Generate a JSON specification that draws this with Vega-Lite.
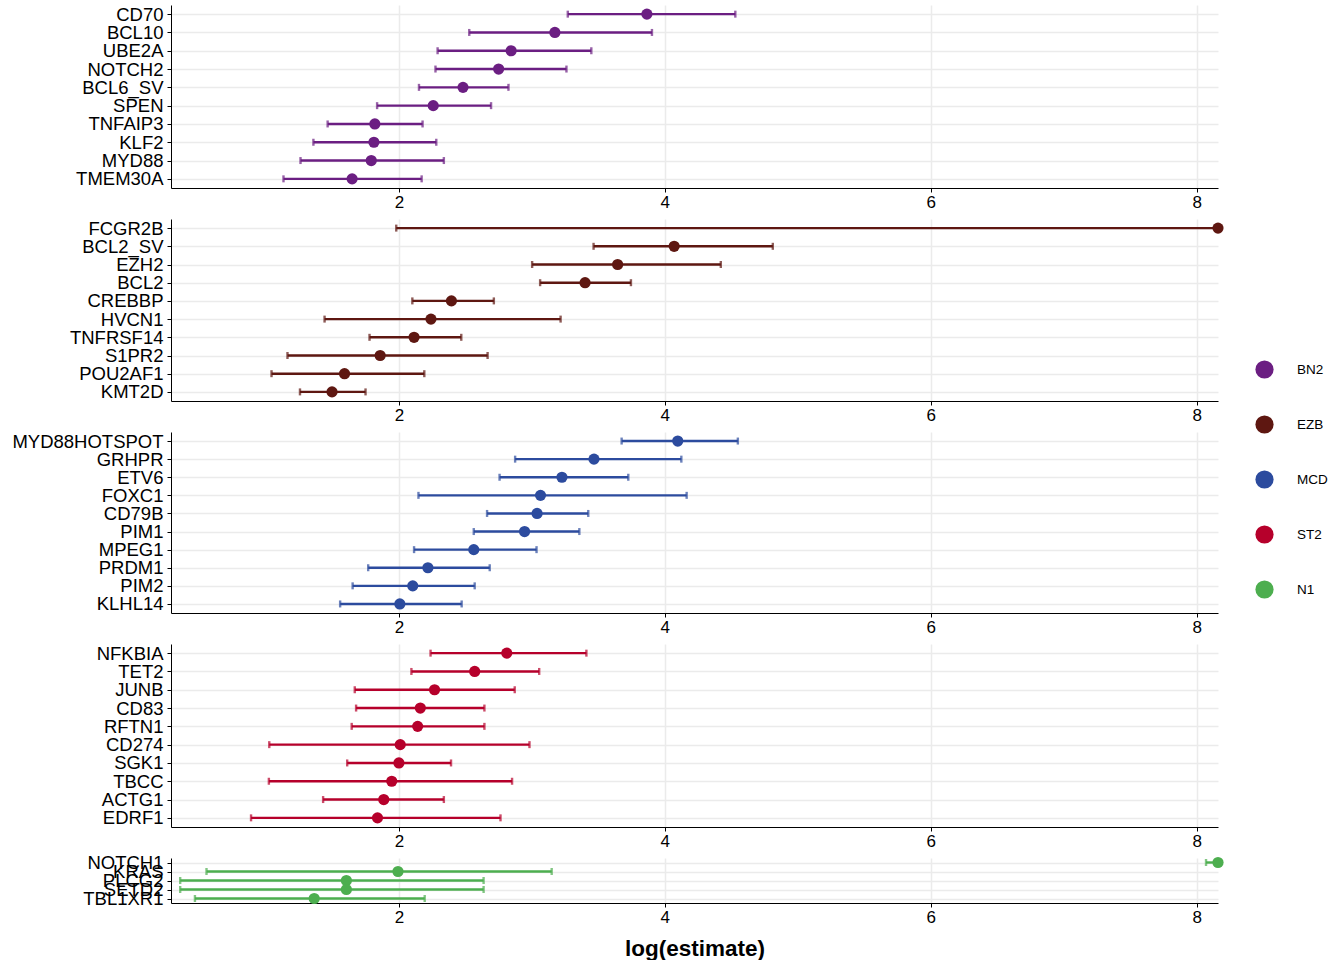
{
  "$schema": "https://vega.github.io/schema/vega-lite/v6.json",
  "padding": {"left": 11, "top": 5, "right": 5, "bottom": 2},
  "background": "white",
  "bounds": "flush",
  "config": {
    "view": {"stroke": null},
    "font": "Liberation Sans",
    "axis": {"labelFont": "Liberation Sans", "labelColor": "black", "labelFontSize": 17, "domainColor": "black", "tickColor": "black", "gridColor": "#EBEBEB", "gridWidth": 1.5, "tickSize": 4, "labelPadding": 2},
    "axisY": {"labelFontSize": 18.5, "labelPadding": 4},
    "legend": {"labelFont": "Liberation Sans"}
  },
  "data": {"values": [
    {"group": "BN2", "gene": "CD70", "est": 3.865, "lo": 3.27, "hi": 4.53},
    {"group": "BN2", "gene": "BCL10", "est": 3.173, "lo": 2.529, "hi": 3.903},
    {"group": "BN2", "gene": "UBE2A", "est": 2.844, "lo": 2.291, "hi": 3.447},
    {"group": "BN2", "gene": "NOTCH2", "est": 2.75, "lo": 2.275, "hi": 3.26},
    {"group": "BN2", "gene": "BCL6_SV", "est": 2.482, "lo": 2.151, "hi": 2.824},
    {"group": "BN2", "gene": "SPEN", "est": 2.258, "lo": 1.836, "hi": 2.693},
    {"group": "BN2", "gene": "TNFAIP3", "est": 1.819, "lo": 1.464, "hi": 2.178},
    {"group": "BN2", "gene": "KLF2", "est": 1.812, "lo": 1.357, "hi": 2.281},
    {"group": "BN2", "gene": "MYD88", "est": 1.792, "lo": 1.26, "hi": 2.338},
    {"group": "BN2", "gene": "TMEM30A", "est": 1.648, "lo": 1.132, "hi": 2.171},
    {"group": "EZB", "gene": "FCGR2B", "est": 8.16, "lo": 1.98, "hi": 8.16},
    {"group": "EZB", "gene": "BCL2_SV", "est": 4.07, "lo": 3.464, "hi": 4.812},
    {"group": "EZB", "gene": "EZH2", "est": 3.645, "lo": 3.002, "hi": 4.421},
    {"group": "EZB", "gene": "BCL2", "est": 3.4, "lo": 3.062, "hi": 3.745},
    {"group": "EZB", "gene": "CREBBP", "est": 2.395, "lo": 2.101, "hi": 2.714},
    {"group": "EZB", "gene": "HVCN1", "est": 2.241, "lo": 1.441, "hi": 3.216},
    {"group": "EZB", "gene": "TNFRSF14", "est": 2.114, "lo": 1.779, "hi": 2.469},
    {"group": "EZB", "gene": "S1PR2", "est": 1.859, "lo": 1.162, "hi": 2.667},
    {"group": "EZB", "gene": "POU2AF1", "est": 1.591, "lo": 1.042, "hi": 2.191},
    {"group": "EZB", "gene": "KMT2D", "est": 1.497, "lo": 1.256, "hi": 1.749},
    {"group": "MCD", "gene": "MYD88HOTSPOT", "est": 4.097, "lo": 3.675, "hi": 4.549},
    {"group": "MCD", "gene": "GRHPR", "est": 3.467, "lo": 2.874, "hi": 4.124},
    {"group": "MCD", "gene": "ETV6", "est": 3.226, "lo": 2.757, "hi": 3.725},
    {"group": "MCD", "gene": "FOXC1", "est": 3.065, "lo": 2.147, "hi": 4.164},
    {"group": "MCD", "gene": "CD79B", "est": 3.039, "lo": 2.663, "hi": 3.424},
    {"group": "MCD", "gene": "PIM1", "est": 2.945, "lo": 2.563, "hi": 3.357},
    {"group": "MCD", "gene": "MPEG1", "est": 2.563, "lo": 2.114, "hi": 3.035},
    {"group": "MCD", "gene": "PRDM1", "est": 2.218, "lo": 1.769, "hi": 2.683},
    {"group": "MCD", "gene": "PIM2", "est": 2.104, "lo": 1.652, "hi": 2.57},
    {"group": "MCD", "gene": "KLHL14", "est": 2.007, "lo": 1.558, "hi": 2.472},
    {"group": "ST2", "gene": "NFKBIA", "est": 2.811, "lo": 2.238, "hi": 3.41},
    {"group": "ST2", "gene": "TET2", "est": 2.57, "lo": 2.094, "hi": 3.055},
    {"group": "ST2", "gene": "JUNB", "est": 2.268, "lo": 1.668, "hi": 2.871},
    {"group": "ST2", "gene": "CD83", "est": 2.161, "lo": 1.678, "hi": 2.643},
    {"group": "ST2", "gene": "RFTN1", "est": 2.141, "lo": 1.645, "hi": 2.643},
    {"group": "ST2", "gene": "CD274", "est": 2.01, "lo": 1.025, "hi": 2.982},
    {"group": "ST2", "gene": "SGK1", "est": 2.0, "lo": 1.611, "hi": 2.392},
    {"group": "ST2", "gene": "TBCC", "est": 1.946, "lo": 1.022, "hi": 2.851},
    {"group": "ST2", "gene": "ACTG1", "est": 1.886, "lo": 1.43, "hi": 2.338},
    {"group": "ST2", "gene": "EDRF1", "est": 1.839, "lo": 0.888, "hi": 2.764},
    {"group": "N1", "gene": "NOTCH1", "est": 8.16, "lo": 8.07, "hi": 8.16},
    {"group": "N1", "gene": "KRAS", "est": 1.993, "lo": 0.553, "hi": 3.149},
    {"group": "N1", "gene": "PLCG2", "est": 1.605, "lo": 0.355, "hi": 2.637},
    {"group": "N1", "gene": "SETD2", "est": 1.605, "lo": 0.355, "hi": 2.637},
    {"group": "N1", "gene": "TBL1XR1", "est": 1.363, "lo": 0.466, "hi": 2.194}
  ]},
  "spacing": 31,
  "resolve": {"scale": {"x": "independent", "y": "independent", "color": "shared"}, "legend": {"color": "shared"}},
  "vconcat": [
    {"width": 1047, "height": 183, "transform": [{"filter": "datum.group == 'BN2'"}],
     "encoding": {
       "y": {"field": "gene", "type": "nominal", "sort": null, "scale": {"type": "point", "padding": 0.5}, "axis": {"title": null, "grid": true}},
       "color": {"field": "group", "type": "nominal", "scale": {"domain": ["BN2", "EZB", "MCD", "ST2", "N1"], "range": ["#6B1E82", "#5E1711", "#2C4B9E", "#B6002B", "#4DAE4F"]}, "legend": {"title": null, "orient": "none", "legendX": 1084, "legendY": 355, "symbolType": "circle", "symbolSize": 330, "symbolOpacity": 1, "symbolFillOpacity": 1, "rowPadding": 36, "labelFontSize": 13.5, "labelOffset": 23, "symbolStrokeWidth": 0, "labelColor": "black", "encode": {"symbols": {"update": {"opacity": {"value": 1}, "fillOpacity": {"value": 1}}}}}}
     },
     "layer": [
       {"mark": {"type": "errorbar", "ticks": {"size": 7, "thickness": 2.4}, "thickness": 2.4}, "encoding": {"x": {"field": "lo", "type": "quantitative", "scale": {"domain": [0.286, 8.16], "nice": false, "zero": false}, "axis": {"title": null, "values": [2, 4, 6, 8], "format": "d", "grid": true}}, "x2": {"field": "hi"}}},
       {"mark": {"type": "point", "filled": true, "size": 125, "opacity": 1}, "encoding": {"x": {"field": "est", "type": "quantitative"}}}
     ]},
    {"width": 1047, "height": 182, "transform": [{"filter": "datum.group == 'EZB'"}],
     "encoding": {
       "y": {"field": "gene", "type": "nominal", "sort": null, "scale": {"type": "point", "padding": 0.5}, "axis": {"title": null, "grid": true}},
       "color": {"field": "group", "type": "nominal"}
     },
     "layer": [
       {"mark": {"type": "errorbar", "ticks": {"size": 7, "thickness": 2.4}, "thickness": 2.4}, "encoding": {"x": {"field": "lo", "type": "quantitative", "scale": {"domain": [0.286, 8.16], "nice": false, "zero": false}, "axis": {"title": null, "values": [2, 4, 6, 8], "format": "d", "grid": true}}, "x2": {"field": "hi"}}},
       {"mark": {"type": "point", "filled": true, "size": 125, "opacity": 1}, "encoding": {"x": {"field": "est", "type": "quantitative"}}}
     ]},
    {"width": 1047, "height": 181, "transform": [{"filter": "datum.group == 'MCD'"}],
     "encoding": {
       "y": {"field": "gene", "type": "nominal", "sort": null, "scale": {"type": "point", "padding": 0.5}, "axis": {"title": null, "grid": true}},
       "color": {"field": "group", "type": "nominal"}
     },
     "layer": [
       {"mark": {"type": "errorbar", "ticks": {"size": 7, "thickness": 2.4}, "thickness": 2.4}, "encoding": {"x": {"field": "lo", "type": "quantitative", "scale": {"domain": [0.286, 8.16], "nice": false, "zero": false}, "axis": {"title": null, "values": [2, 4, 6, 8], "format": "d", "grid": true}}, "x2": {"field": "hi"}}},
       {"mark": {"type": "point", "filled": true, "size": 125, "opacity": 1}, "encoding": {"x": {"field": "est", "type": "quantitative"}}}
     ]},
    {"width": 1047, "height": 183, "transform": [{"filter": "datum.group == 'ST2'"}],
     "encoding": {
       "y": {"field": "gene", "type": "nominal", "sort": null, "scale": {"type": "point", "padding": 0.5}, "axis": {"title": null, "grid": true}},
       "color": {"field": "group", "type": "nominal"}
     },
     "layer": [
       {"mark": {"type": "errorbar", "ticks": {"size": 7, "thickness": 2.4}, "thickness": 2.4}, "encoding": {"x": {"field": "lo", "type": "quantitative", "scale": {"domain": [0.286, 8.16], "nice": false, "zero": false}, "axis": {"title": null, "values": [2, 4, 6, 8], "format": "d", "grid": true}}, "x2": {"field": "hi"}}},
       {"mark": {"type": "point", "filled": true, "size": 125, "opacity": 1}, "encoding": {"x": {"field": "est", "type": "quantitative"}}}
     ]},
    {"width": 1047, "height": 45, "transform": [{"filter": "datum.group == 'N1'"}],
     "encoding": {
       "y": {"field": "gene", "type": "nominal", "sort": null, "scale": {"type": "point", "padding": 0.5}, "axis": {"title": null, "grid": true}},
       "color": {"field": "group", "type": "nominal"}
     },
     "layer": [
       {"mark": {"type": "errorbar", "ticks": {"size": 7, "thickness": 2.4}, "thickness": 2.4}, "encoding": {"x": {"field": "lo", "type": "quantitative", "scale": {"domain": [0.286, 8.16], "nice": false, "zero": false}, "axis": {"title": "log(estimate)", "titleFont": "Liberation Sans", "titleFontSize": 22.5, "titleFontWeight": "bold", "titleColor": "black", "titlePadding": 12, "values": [2, 4, 6, 8], "format": "d", "grid": true}}, "x2": {"field": "hi"}}},
       {"mark": {"type": "point", "filled": true, "size": 125, "opacity": 1}, "encoding": {"x": {"field": "est", "type": "quantitative"}}}
     ]}
  ]
}
